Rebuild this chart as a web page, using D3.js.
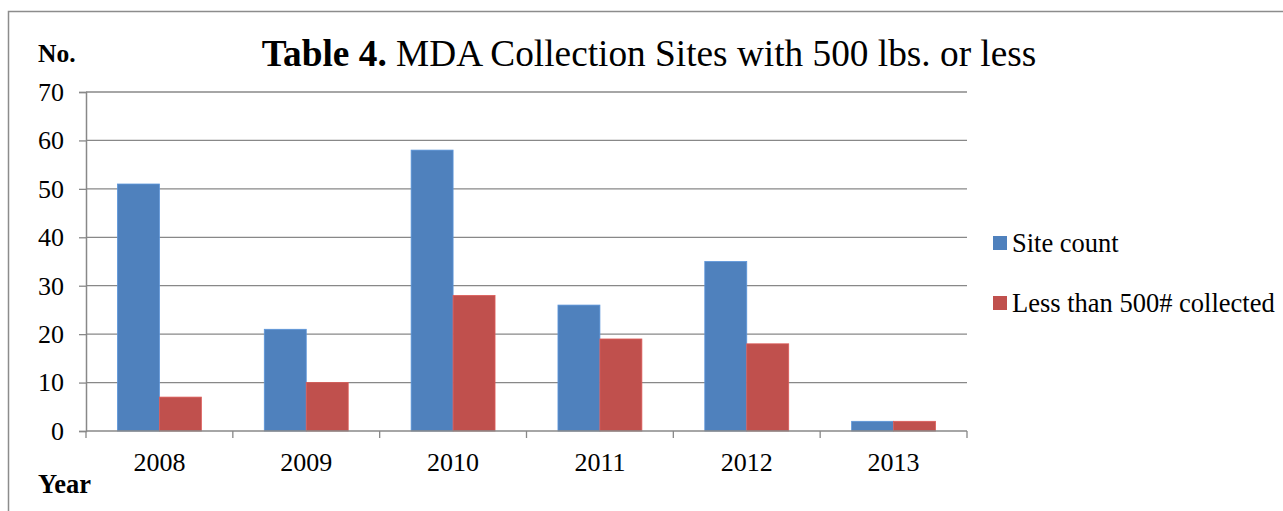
<!DOCTYPE html>
<html>
<head>
<meta charset="utf-8">
<script src="https://cdn.jsdelivr.net/npm/d3@7"></script>
<style>
  body { margin: 0; background: #fff; }
  svg { display: block; font-family: "Liberation Serif", "Times New Roman", serif; }
</style>
</head>
<body>
<div id="chart"></div>
<script>
// chart data
const years = ["2008", "2009", "2010", "2011", "2012", "2013"];
const siteCount = [51, 21, 58, 26, 35, 2];
const lessThan500 = [7, 10, 28, 19, 18, 2];
const seriesNames = ["Site count", "Less than 500# collected"];
const seriesColors = ["#4F81BD", "#C0504D"];
const yTicks = [0, 10, 20, 30, 40, 50, 60, 70];

const W = 1283, H = 511;
const plot = { left: 86, right: 967, top: 92, bottom: 431 };

const svg = d3.select("#chart")
    .append("svg")
    .attr("width", W)
    .attr("height", H);

// outer frame (cropped on right and bottom)
svg.append("rect")
    .attr("x", 8.5).attr("y", 11.5)
    .attr("width", W + 20).attr("height", H + 20)
    .attr("fill", "none")
    .attr("stroke", "#8c8c8c")
    .attr("stroke-width", 1.5);

const x = d3.scaleBand()
    .domain(years)
    .range([plot.left, plot.right])
    .padding(0);

const barW = x.bandwidth() / 3.5;
const xs = d3.scaleBand()
    .domain(seriesNames)
    .range([barW * 0.75, x.bandwidth() - barW * 0.75])
    .padding(0);

const y = d3.scaleLinear()
    .domain([0, 70])
    .range([plot.bottom, plot.top]);

// gridlines
svg.append("g")
    .selectAll("line")
    .data(yTicks.filter(d => d > 0))
    .join("line")
    .attr("x1", plot.left).attr("x2", plot.right)
    .attr("y1", d => y(d)).attr("y2", d => y(d))
    .attr("stroke", "#888")
    .attr("stroke-width", 1.3);

// y axis
const yAxis = svg.append("g")
    .attr("transform", `translate(${plot.left},0)`)
    .call(d3.axisLeft(y).tickValues(yTicks).tickSize(7).tickPadding(15));
yAxis.select(".domain").attr("stroke", "#888").attr("stroke-width", 1.5);
yAxis.selectAll(".tick line").attr("stroke", "#888").attr("stroke-width", 1.3);
yAxis.selectAll(".tick text")
    .attr("font-size", 26)
    .attr("font-family", "Liberation Serif")
    .attr("fill", "#000");

// bars
const rows = years.map((yr, i) => ({ year: yr, values: [siteCount[i], lessThan500[i]] }));
svg.append("g")
    .selectAll("g")
    .data(rows)
    .join("g")
    .attr("transform", d => `translate(${x(d.year)},0)`)
    .selectAll("rect")
    .data(d => d.values.map((v, j) => ({ name: seriesNames[j], value: v, color: seriesColors[j] })))
    .join("rect")
    .attr("x", d => xs(d.name))
    .attr("y", d => y(d.value))
    .attr("width", xs.bandwidth())
    .attr("height", d => y(0) - y(d.value))
    .attr("fill", d => d.color)
    .attr("stroke", d => d3.color(d.color).brighter(0.4))
    .attr("stroke-width", 0.8);

// x axis
const tickPos = years.map(d => x(d)).concat([plot.right]);
const xAxis = svg.append("g");
xAxis.append("line")
    .attr("x1", plot.left).attr("x2", plot.right)
    .attr("y1", y(0)).attr("y2", y(0))
    .attr("stroke", "#888").attr("stroke-width", 1.5);
xAxis.selectAll(".xt")
    .data(tickPos)
    .join("line")
    .attr("class", "xt")
    .attr("x1", d => d).attr("x2", d => d)
    .attr("y1", y(0)).attr("y2", y(0) + 7)
    .attr("stroke", "#888").attr("stroke-width", 1.3);
xAxis.selectAll("text")
    .data(years)
    .join("text")
    .attr("x", d => x(d) + x.bandwidth() / 2)
    .attr("y", 471)
    .attr("text-anchor", "middle")
    .attr("font-size", 26)
    .text(d => d);

// title
const title = svg.append("text")
    .attr("x", 649)
    .attr("y", 66)
    .attr("text-anchor", "middle")
    .attr("font-size", 37.3);
title.append("tspan").attr("font-weight", "bold").text("Table 4.");
title.append("tspan").text(" MDA Collection Sites with 500 lbs. or less");

// axis captions
svg.append("text")
    .attr("x", 38).attr("y", 62)
    .attr("font-size", 25.5).attr("font-weight", "bold")
    .text("No.");
svg.append("text")
    .attr("x", 38).attr("y", 493)
    .attr("font-size", 26.5).attr("font-weight", "bold")
    .text("Year");

// legend
const legend = svg.append("g")
    .selectAll("g")
    .data(seriesNames)
    .join("g")
    .attr("transform", (d, i) => `translate(993,${236 + i * 60})`);
legend.append("rect")
    .attr("width", 14).attr("height", 14)
    .attr("fill", (d, i) => seriesColors[i]);
legend.append("text")
    .attr("x", 19).attr("y", 16)
    .attr("font-size", 26.5)
    .text(d => d);
</script>
</body>
</html>
